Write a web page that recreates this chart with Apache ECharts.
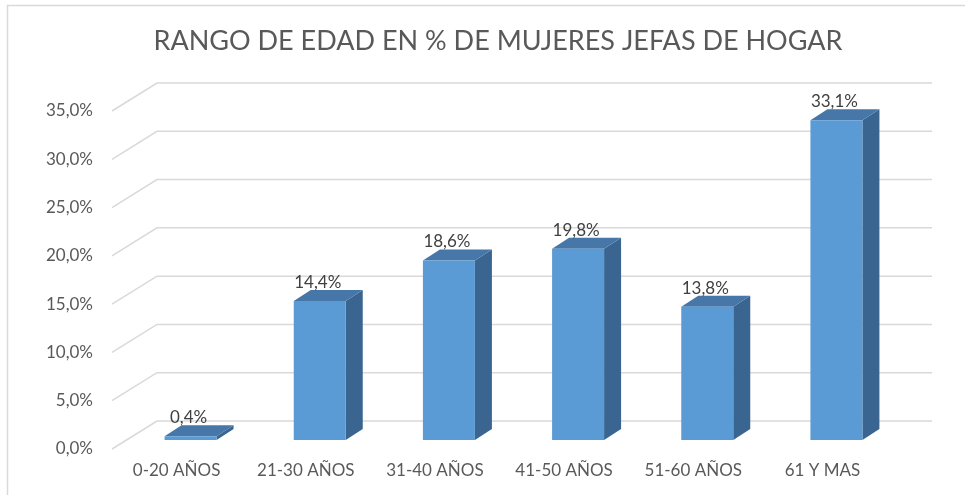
<!DOCTYPE html>
<html>
<head>
<meta charset="utf-8">
<script src="https://cdn.jsdelivr.net/npm/echarts@6/dist/echarts.min.js"></script>
<style>
  html, body { margin: 0; padding: 0; background: #fff; }
  #chart { width: 965px; height: 495px; }
</style>
</head>
<body>
<div id="chart"></div>
<script>
  // datos del grafico
  var categorias = ['0-20 AÑOS', '21-30 AÑOS', '31-40 AÑOS', '41-50 AÑOS', '51-60 AÑOS', '61 Y MAS'];
  var valores = [0.004, 0.144, 0.186, 0.198, 0.138, 0.331];
  var ticks = [0, 0.05, 0.10, 0.15, 0.20, 0.25, 0.30, 0.35];

  var FONT = 'Lato, "Open Sans", sans-serif';
  // profundidad del "3D"
  var fondoX = 45, fondoY = -28;
  var barOffX = 14, barOffY = -9, barAncho = 52, barProfX = 17, barProfY = -11;

  function pct(v) {
    return (v * 100).toFixed(1).replace('.', ',') + '%';
  }

  var chart = echarts.init(document.getElementById('chart'));
  chart.setOption({
    animation: false,
    backgroundColor: '#fff',
    title: {
      text: 'RANGO DE EDAD EN % DE MUJERES JEFAS DE HOGAR',
      left: 493,
      textAlign: 'center',
      top: 23,
      textStyle: { fontFamily: FONT, fontSize: 27, fontWeight: 'normal', color: '#595959' }
    },
    graphic: [
      // borde del area del grafico
      { type: 'polyline', silent: true, shape: { points: [[7.5, 500], [7.5, 5.5], [970, 5.5]] },
        style: { stroke: '#d9d9d9', lineWidth: 1.5, fill: null } }
    ],
    grid: { left: 112, right: 78, top: 111, bottom: 46 },
    xAxis: {
      type: 'category',
      data: categorias,
      axisLine: { show: false },
      axisTick: { show: false },
      axisLabel: { margin: 13, fontFamily: FONT, fontSize: 17, color: '#595959' }
    },
    yAxis: {
      type: 'value',
      min: 0,
      max: 0.35,
      interval: 0.05,
      splitLine: { show: false },
      axisLine: { show: false },
      axisTick: { show: false },
      axisLabel: { margin: 19, fontFamily: FONT, fontSize: 17, color: '#595959', formatter: pct }
    },
    series: [
      // lineas de cuadricula en perspectiva
      {
        type: 'custom',
        silent: true,
        z: 1,
        data: ticks.map(function (t) { return [0, t]; }),
        renderItem: function (params, api) {
          var cs = params.coordSys;
          var y = api.coord([0, api.value(1)])[1];
          var x0 = cs.x;
          return {
            type: 'polyline',
            shape: { points: [[x0, y], [x0 + fondoX, y + fondoY], [x0 + cs.width + fondoX, y + fondoY]] },
            style: { stroke: '#d9d9d9', lineWidth: 1.5, fill: null }
          };
        }
      },
      // barras 3D
      {
        type: 'custom',
        z: 2,
        data: valores.map(function (v, i) { return [i, v]; }),
        renderItem: function (params, api) {
          var p0 = api.coord([api.value(0), 0]);
          var p1 = api.coord([api.value(0), api.value(1)]);
          var cx = p0[0] + barOffX;
          var xl = cx - barAncho / 2, xr = cx + barAncho / 2;
          var yb = p0[1] + barOffY;
          var yt = p1[1] + barOffY;
          var dx = barProfX, dy = barProfY;
          return {
            type: 'group',
            children: [
              { type: 'polygon', shape: { points: [[xr, yt], [xr + dx, yt + dy], [xr + dx, yb + dy], [xr, yb]] },
                style: { fill: '#3a6590' } },
              { type: 'polygon', shape: { points: [[xl, yt], [xl + dx, yt + dy], [xr + dx, yt + dy], [xr, yt]] },
                style: { fill: '#4677a8' } },
              { type: 'rect', shape: { x: xl, y: yt, width: barAncho, height: yb - yt },
                style: { fill: '#5b9bd5' } },
              { type: 'text', x: cx - 2, y: yt + dy + 1,
                style: { text: pct(api.value(1)), fill: '#404040', font: '17px ' + FONT,
                  align: 'center', verticalAlign: 'bottom' } }
            ]
          };
        }
      }
    ]
  });
</script>
</body>
</html>
